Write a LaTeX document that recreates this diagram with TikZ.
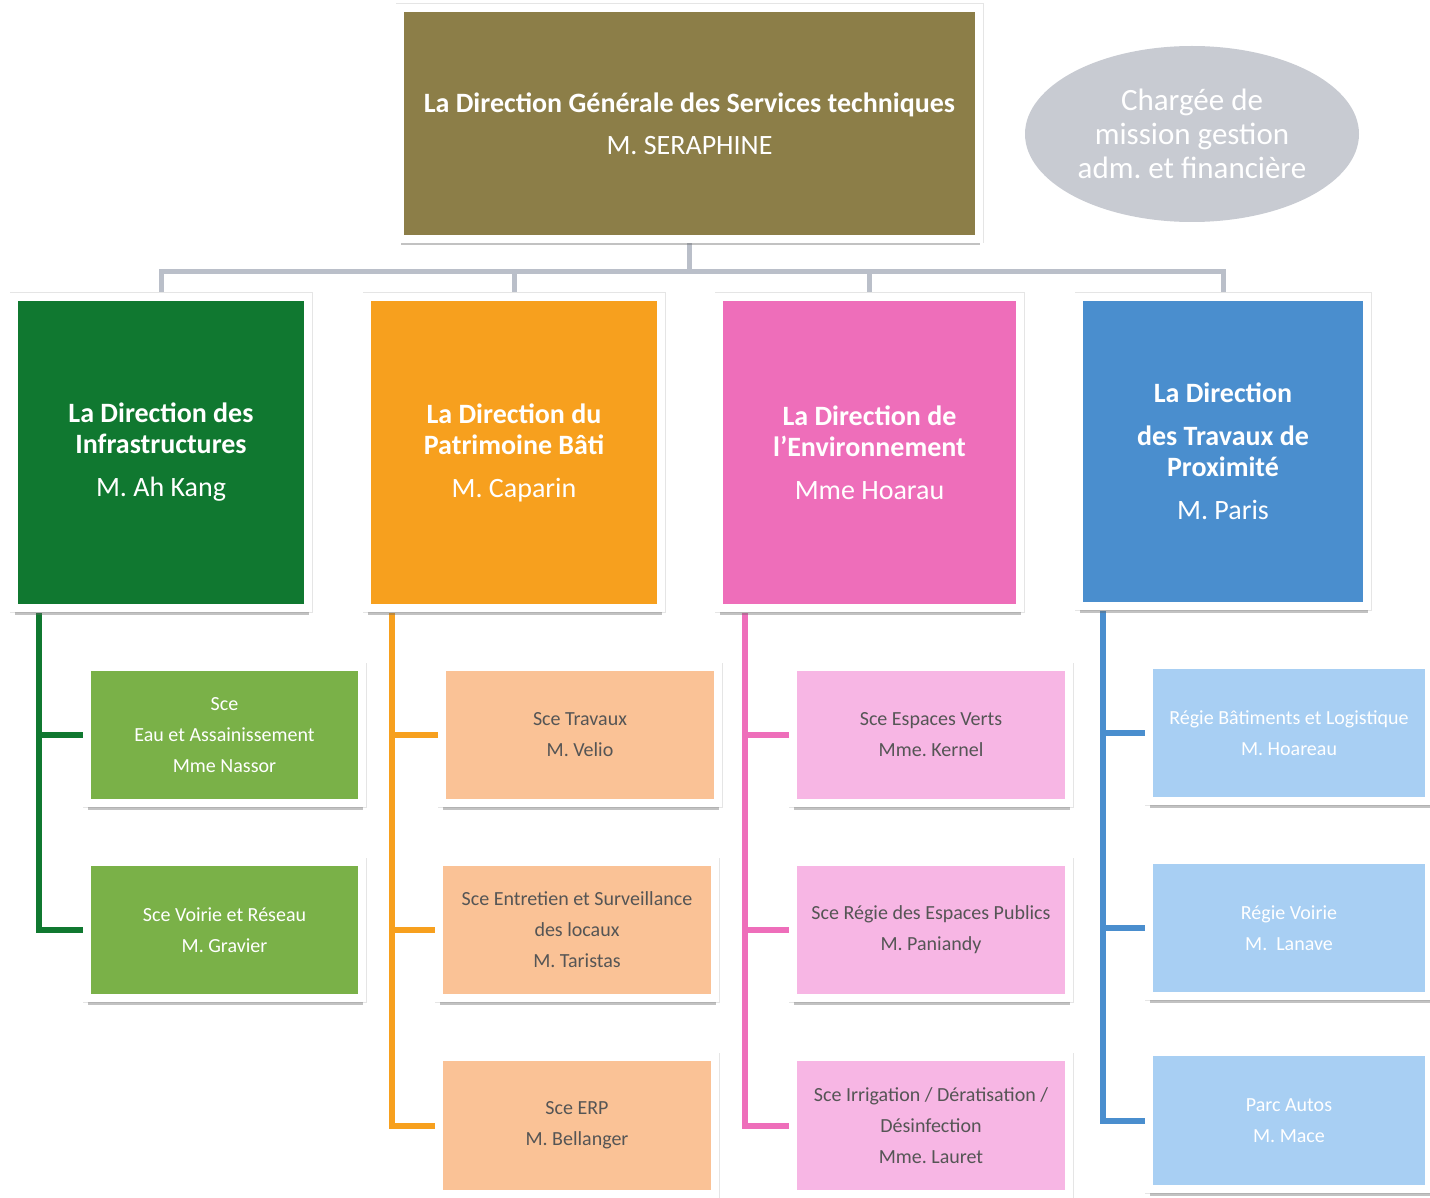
\documentclass[tikz,border=0pt]{standalone}
\usepackage{fontspec}
\setmainfont{Carlito}
\usetikzlibrary{shadows,backgrounds,calc,shapes.geometric}
\frenchspacing

\definecolor{olive}{RGB}{140,126,72}
\definecolor{mission}{RGB}{200,203,210}
\definecolor{dgreen}{RGB}{16,120,48}
\definecolor{dorange}{RGB}{247,160,30}
\definecolor{dpink}{RGB}{238,110,186}
\definecolor{dblue}{RGB}{74,142,206}
\definecolor{lgreen}{RGB}{122,177,72}
\definecolor{lorange}{RGB}{250,194,150}
\definecolor{lpink}{RGB}{247,182,228}
\definecolor{lblue}{RGB}{168,207,243}
\definecolor{busgray}{RGB}{186,191,201}
\definecolor{darktext}{RGB}{85,85,85}

\begin{document}
\begin{tikzpicture}[x=1pt,y=-1pt,
  box/.style={rectangle, draw=white, line width=8pt, inner sep=0pt, align=center,
    preaction={draw=black!10, line width=9pt},
    drop shadow={shadow xshift=0.5pt, shadow yshift=-6.5pt, fill=black!60, opacity=.4}},
  topbox/.style={box, fill=olive, text=white, minimum width=579pt, minimum height=231pt,
    font=\fontsize{28}{42}\selectfont},
  dirbox/.style={box, text=white, minimum height=311pt,
    font=\bfseries\fontsize{28}{31}\selectfont},
  scebox/.style={box, minimum width=276pt, minimum height=136pt,
    font=\fontsize{20}{31}\selectfont},
  busline/.style={busgray, line width=5pt},
  branch/.style={line width=6pt},
]
\useasboundingbox (0,0) rectangle (1430,1198);

% General direction and mission officer
\node[topbox] (top) at (689.5,123.5)
  {\textbf{La Direction Générale des Services techniques}\\M. SERAPHINE};
\node[ellipse, fill=mission, text=white, minimum width=334pt, minimum height=176pt,
  inner sep=0pt, align=center, font=\fontsize{31}{34}\selectfont] (mission) at (1192,134)
  {Chargée de\\mission gestion\\adm. et financière};

% Directions
\node[dirbox, fill=dgreen, minimum width=294pt] (G) at (161,452.5)
  {La Direction des\\Infrastructures\\[12pt]\mdseries M. Ah Kang};
\node[dirbox, fill=dorange, minimum width=294pt] (O) at (514,452.5)
  {La Direction du\\Patrimoine Bâti\\[12pt]\mdseries M. Caparin};
\node[dirbox, fill=dpink, minimum width=301pt] (P) at (869.5,452.5)
  {La Direction de\\l'Environnement\\[12pt]\mdseries Mme Hoarau};
\node[dirbox, fill=dblue, minimum width=288pt, minimum height=309pt] (B) at (1223,451.5)
  {La Direction\\[12pt]des Travaux de\\Proximité\\[12pt]\mdseries M. Paris};

% Services
\node[scebox, fill=lgreen, text=white, minimum width=275pt] (G1) at (224.5,735)
  {Sce\\Eau et Assainissement\\Mme Nassor};
\node[scebox, fill=lgreen, text=white, minimum width=275pt] (G2) at (224.5,930)
  {Sce Voirie et Réseau\\M. Gravier};

\node[scebox, fill=lorange, text=darktext] (O1) at (580,735)
  {Sce Travaux\\M. Velio};
\node[scebox, fill=lorange, text=darktext] (O2) at (577,930)
  {Sce Entretien et Surveillance\\des locaux\\M. Taristas};
\node[scebox, fill=lorange, text=darktext, minimum height=137pt] (O3) at (577,1125.5)
  {Sce ERP\\M. Bellanger};

\node[scebox, fill=lpink, text=darktext] (P1) at (931,735)
  {Sce Espaces Verts\\Mme. Kernel};
\node[scebox, fill=lpink, text=darktext] (P2) at (931,930)
  {Sce Régie des Espaces Publics\\M. Paniandy};
\node[scebox, fill=lpink, text=darktext, minimum height=137pt] (P3) at (931,1125.5)
  {Sce Irrigation / Dératisation /\\Désinfection\\Mme. Lauret};

\node[scebox, fill=lblue, text=white, minimum width=280pt] (B1) at (1289,733)
  {Régie Bâtiments et Logistique\\M. Hoareau};
\node[scebox, fill=lblue, text=white, minimum width=280pt] (B2) at (1289,928)
  {Régie Voirie\\M.~ Lanave};
\node[scebox, fill=lblue, text=white, minimum width=280pt, minimum height=137pt] (B3) at (1289,1120.5)
  {Parc Autos\\M. Mace};

% Connectors
\begin{scope}[on background layer]
  \coordinate (bus) at ($(top.south)+(0,29)$);
  \foreach \d in {G,O,P,B}
    \draw[busline] (top.south) -- (bus) -| (\d.north);

  \draw[branch, dgreen]  ($(G.south west)+(29,0)$) |- (G2.west);
  \draw[branch, dgreen]  ($(G.south west)+(29,0)$) |- (G1.west);

  \draw[branch, dorange] ($(O.south west)+(29,0)$) |- (O3.west);
  \draw[branch, dorange] ($(O.south west)+(29,0)$) |- (O2.west);
  \draw[branch, dorange] ($(O.south west)+(29,0)$) |- (O1.west);

  \draw[branch, dpink]   ($(P.south west)+(30,0)$) |- (P3.west);
  \draw[branch, dpink]   ($(P.south west)+(30,0)$) |- (P2.west);
  \draw[branch, dpink]   ($(P.south west)+(30,0)$) |- (P1.west);

  \draw[branch, dblue]   ($(B.south west)+(28,0)$) |- (B3.west);
  \draw[branch, dblue]   ($(B.south west)+(28,0)$) |- (B2.west);
  \draw[branch, dblue]   ($(B.south west)+(28,0)$) |- (B1.west);
\end{scope}
\end{tikzpicture}
\end{document}
